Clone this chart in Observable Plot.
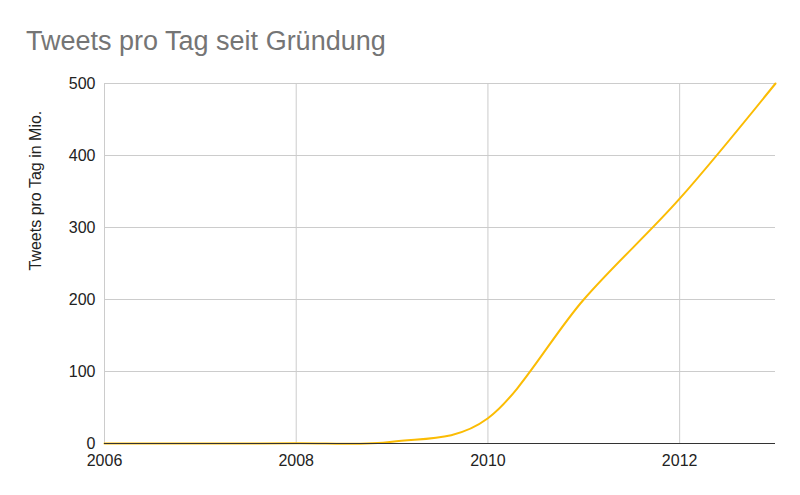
<!DOCTYPE html>
<html>
<head>
<meta charset="utf-8">
<script src="https://cdn.jsdelivr.net/npm/d3@7"></script>
<script src="https://cdn.jsdelivr.net/npm/@observablehq/plot@0.6"></script>
<style>
  html, body { margin: 0; padding: 0; background: #fff; }
  #title { height: 70px; box-sizing: border-box; padding: 28px 0 0 26px; font-family: "Liberation Sans", Arial, sans-serif; font-size: 27px; color: #757575; line-height: 27px; white-space: nowrap; }
</style>
</head>
<body>
<div id="title">Tweets pro Tag seit Gründung</div>
<div id="chart"></div>
<script>
const years = [2006, 2007, 2008, 2009, 2010, 2011, 2012, 2013];
const tweets = [0, 0.005, 0.3, 2.5, 35, 200, 340, 500];
const xTicks = [2006, 2008, 2010, 2012];
const yTicks = [0, 100, 200, 300, 400, 500];
const yLabel = "Tweets pro Tag in Mio.";

const data = years.map((y, i) => ({year: y, value: tweets[i]}));

const chart = Plot.plot({
  width: 800,
  height: 425,
  marginTop: 13,
  marginLeft: 104,
  marginRight: 25,
  marginBottom: 52,
  style: {fontFamily: "'Liberation Sans', Arial, sans-serif", fontSize: "16px", color: "#222"},
  x: {domain: [2006, 2013]},
  y: {domain: [0, 500]},
  marks: [
    Plot.gridY(yTicks.filter(d => d > 0), {stroke: "#cccccc", strokeOpacity: 1}),
    Plot.gridX(xTicks, {stroke: "#cccccc", strokeOpacity: 1}),
    Plot.axisX(xTicks, {tickSize: 0, tickPadding: 11, tickFormat: d => String(d), label: null, fontSize: 16}),
    Plot.axisY(yTicks, {tickSize: 0, tickPadding: 9, label: null, fontSize: 16}),
    Plot.text([yLabel], {text: d => d, frameAnchor: "left", rotate: -90, dx: -69, dy: 7, fontSize: 16, fill: "#222"}),
    Plot.line(data, {x: "year", y: "value", curve: "cardinal", stroke: "#fbbc04", strokeWidth: 2}),
    Plot.ruleY([0], {stroke: "#333333", strokeWidth: 1})
  ]
});
document.getElementById("chart").appendChild(chart);
</script>
</body>
</html>
